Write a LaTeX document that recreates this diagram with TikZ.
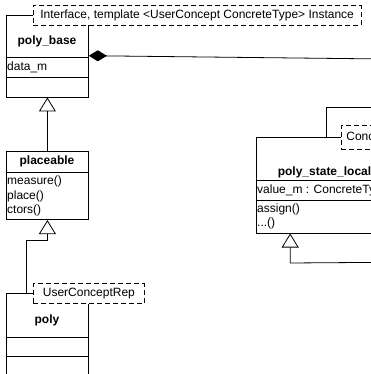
\documentclass[tikz,border=0pt]{standalone}
\usepackage{fontspec}
\setmainfont{Liberation Sans}
\usetikzlibrary{arrows.meta,calc}

\begin{document}
\begin{tikzpicture}[x=1pt,y=-1pt,
  every node/.style={font=\fontsize{12}{14}\selectfont},
  cls/.style={draw, line width=0.8pt, fill=white, inner sep=0pt, anchor=north west},
  tag/.style={draw, line width=0.8pt, dash pattern=on 5pt off 3pt, fill=white,
              inner xsep=7pt, inner ysep=0pt, minimum height=20pt, anchor=north west},
  ttl/.style={font=\fontsize{12}{14}\selectfont\bfseries, inner sep=0pt},
  mem/.style={anchor=west, inner sep=0pt},
  sep/.style={line width=0.8pt},
  gen/.style={line width=0.8pt, {Triangle[open,length=14pt,width=17pt]}-},
  comp/.style={line width=0.8pt, {Diamond[length=18pt,width=11pt,fill=black]}-},
]
% canvas
\fill[white] (0,0) rectangle (371,374);
\clip (0,0) rectangle (371,374);

% off-canvas ends of connectors
\coordinate (compEnd) at (430,59.5);
\coordinate (pslOut) at (400,262.2);

% class partly hidden behind poly_state_local
\node[cls, minimum width=120pt, minimum height=90pt] (back) at (325.5,107) {};

% composition from poly_base
\coordinate (baseJoin) at (88,55.7);

% ---- poly_base ----
\node[cls, minimum width=82pt, minimum height=81.7pt] (base) at (6,15) {};
\draw[sep] (base.west |- 0,57.7) -- (base.east |- 0,57.7);
\draw[sep] (base.west |- 0,77.7) -- (base.east |- 0,77.7);
\node[ttl] (baseT) at (47,41) {poly\_base};
\node[mem] (baseA) at (7,67) {data\_m};
\node[tag] (tagBase) at (33,5) {Interface, template <UserConcept ConcreteType> Instance};
\draw[comp] (base.east |- baseJoin) -- (compEnd);

% ---- placeable ----
\node[cls, minimum width=82pt, minimum height=68.6pt] (place) at (6,150.7) {};
\draw[sep] (place.west |- 0,172.3) -- (place.east |- 0,172.3);
\node[ttl] (placeT) at (47,161.7) {placeable};
\node[mem] (placeA) at (7,181.7) {measure()};
\node[mem] (placeB) at (7,196.2) {place()};
\node[mem] (placeC) at (7,210.7) {ctors()};

% ---- poly ----
\node[cls, minimum width=82pt, minimum height=100pt] (poly) at (6,293.3) {};
\draw[sep] (poly.west |- 0,337.3) -- (poly.east |- 0,337.3);
\draw[sep] (poly.west |- 0,356) -- (poly.east |- 0,356);
\node[ttl] (polyT) at (47,320.7) {poly};
\node[tag, minimum width=111pt] (tagPoly) at (33,283.3) {UserConceptRep};

% ---- poly_state_local ----
\node[cls, minimum width=137pt, minimum height=95.4pt] (psl) at (256,137.3) {};
\draw[sep] (psl.west |- 0,180) -- (psl.east |- 0,180);
\draw[sep] (psl.west |- 0,200) -- (psl.east |- 0,200);
\node[ttl] (pslT) at (324.5,172) {poly\_state\_local};
\node[mem] (pslA) at (257,190) {value\_m : ConcreteType};
\node[mem] (pslB) at (257,209) {assign()};
\node[mem] (pslC) at (257,223.5) {...()};
\node[tag, inner xsep=5pt, minimum height=24pt] (tagPsl) at (341,125.2) {ConcreteType};

% ---- generalizations ----
\draw[gen] (base.south) -- (place.north);
\draw[gen] (place.south) -- ++(0,20.7) -| ($(poly.north west)!0.25!(poly.north east)$);
\draw[gen] ($(psl.south west)!0.248!(psl.south east)$) -- ++(0,29.5) -- (pslOut);
\end{tikzpicture}
\end{document}
